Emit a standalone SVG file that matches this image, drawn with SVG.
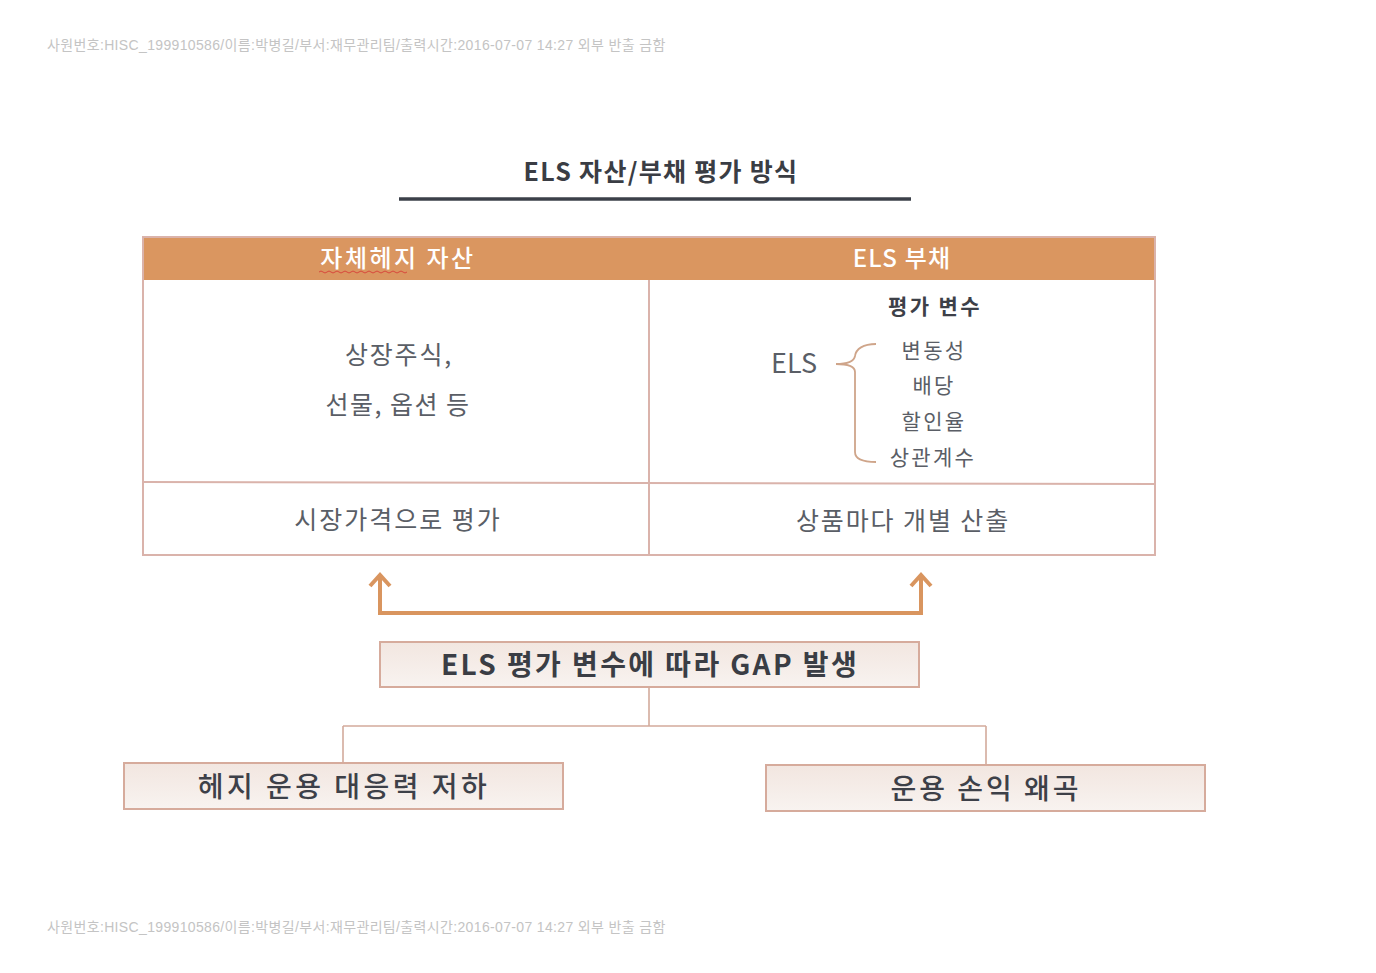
<svg xmlns="http://www.w3.org/2000/svg" width="1376" height="973" viewBox="0 0 1376 973">
<defs>
<style>
text{font-family:"Noto Sans CJK KR","Noto Sans",sans-serif}
.wm{font-family:"Liberation Sans","Noto Sans CJK KR",sans-serif;font-size:14px;fill:#c4c4c4;letter-spacing:0.35px}
.hdr{font-size:24px;fill:#ffffff;font-weight:500;text-anchor:middle}
.cell{font-size:25px;fill:#5a5e66;text-anchor:middle}
.var{font-size:21px;fill:#5a5e66;text-anchor:middle;letter-spacing:2.3px}
.bxt{font-size:28px;fill:#3d4048;text-anchor:middle;font-weight:500}
.tb{fill:none;stroke:#dab3ab;stroke-width:2}
.conn{fill:none;stroke:#d3ab9c;stroke-width:1.6}
.arr{fill:none;stroke:#d9955f;stroke-width:4;stroke-linejoin:miter}
</style>
<linearGradient id="g" x1="0" y1="0" x2="0" y2="1">
<stop offset="0" stop-color="#f2e6e0"/><stop offset="1" stop-color="#f8f3f0"/>
</linearGradient>
</defs>
<rect width="1376" height="973" fill="#ffffff"/>
<text class="wm" x="47" y="50">사원번호:HISC_199910586/이름:박병길/부서:재무관리팀/출력시간:2016-07-07 14:27 외부 반출 금함</text>
<text class="wm" x="47" y="932">사원번호:HISC_199910586/이름:박병길/부서:재무관리팀/출력시간:2016-07-07 14:27 외부 반출 금함</text>

<g id="title">
<text x="661" y="181" font-size="25" font-weight="700" fill="#3a3d44" text-anchor="middle" letter-spacing="1.3">ELS 자산/부채 평가 방식</text>
<line x1="399" y1="199" x2="911" y2="199" stroke="#3b4049" stroke-width="3.5"/>
</g>

<g id="table">
<rect x="143" y="237" width="1012" height="43" fill="#da9660"/>
<rect x="143" y="237" width="1012" height="318" class="tb"/>
<line x1="649" y1="280" x2="649" y2="555" class="tb"/>
<line x1="143" y1="482" x2="1155" y2="484" class="tb"/>
<text class="hdr" x="398" y="267" letter-spacing="2.5">자체헤지 자산</text>
<path d="M319,272 q2,-2 4,0 t4,0 t4,0 t4,0 t4,0 t4,0 t4,0 t4,0 t4,0 t4,0 t4,0 t4,0 t4,0 t4,0 t4,0 t4,0 t4,0 t4,0 t4,0 t4,0 t4,0 t4,0" fill="none" stroke="#d8483c" stroke-width="1"/>
<text class="hdr" x="902" y="267" letter-spacing="1.2">ELS 부채</text>
<text class="cell" x="399" y="364" letter-spacing="1.8">상장주식,</text>
<text class="cell" x="398" y="414" letter-spacing="1.5">선물, 옵션 등</text>
<text class="cell" x="398" y="529" letter-spacing="2">시장가격으로 평가</text>
<text x="935" y="314" font-size="21" font-weight="700" fill="#3d4048" text-anchor="middle" letter-spacing="2.4">평가 변수</text>
<text x="794" y="373" font-size="27" fill="#5a5e66" text-anchor="middle">ELS</text>
<path d="M876,344 C863,344 856,349 855,356 C854,362 846,364 836,364 C846,364 855,366 855,372 L855,452 C855,458 862,462 876,462" fill="none" stroke="#cfa58a" stroke-width="1.8"/>
<text class="var" x="934" y="358">변동성</text>
<text class="var" x="934" y="393">배당</text>
<text class="var" x="934" y="429">할인율</text>
<text class="var" x="933" y="465">상관계수</text>
<text class="cell" x="903" y="530" letter-spacing="1.9">상품마다 개별 산출</text>
</g>

<g id="connectors">
<path class="arr" d="M380,576 L380,613 L921,613 L921,576"/>
<path class="arr" d="M370,586 L380,575 L390,586"/>
<path class="arr" d="M911,586 L921,575 L931,586"/>
<path class="conn" d="M649,688 L649,726 M343,726 L986,726 M343,726 L343,763 M986,726 L986,765"/>
</g>

<g id="gap">
<rect x="380" y="642" width="539" height="45" fill="url(#g)" stroke="#d6ab9c" stroke-width="2"/>
<text x="650" y="675" font-size="28" font-weight="700" fill="#3a3d44" text-anchor="middle" letter-spacing="2.4">ELS 평가 변수에 따라 GAP 발생</text>
</g>

<g id="hedge">
<rect x="124" y="763" width="439" height="46" fill="url(#g)" stroke="#d6ab9c" stroke-width="2"/>
<text class="bxt" x="344" y="797" letter-spacing="3.5">헤지 운용 대응력 저하</text>
</g>

<g id="pnl">
<rect x="766" y="765" width="439" height="46" fill="url(#g)" stroke="#d6ab9c" stroke-width="2"/>
<text class="bxt" x="986" y="799" letter-spacing="3">운용 손익 왜곡</text>
</g>
</svg>
